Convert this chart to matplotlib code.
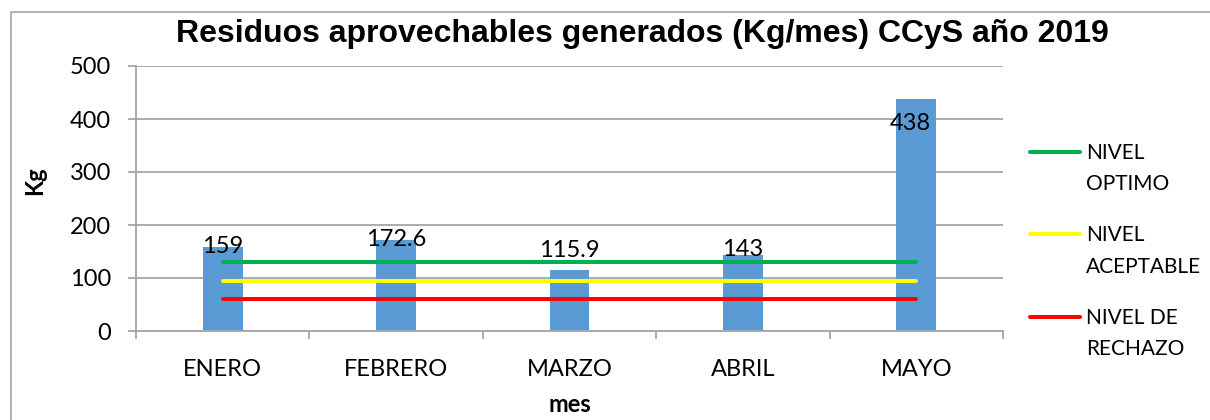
import matplotlib
matplotlib.use("Agg")
import matplotlib.pyplot as plt
from matplotlib.lines import Line2D
from matplotlib.ticker import FixedLocator, NullFormatter
from matplotlib.font_manager import FontProperties

# ---- data ----
meses = ["ENERO", "FEBRERO", "MARZO", "ABRIL", "MAYO"]
residuos_kg = [159, 172.6, 115.9, 143, 438]
nivel_optimo = [130, 130, 130, 130, 130]
nivel_aceptable = [95, 95, 95, 95, 95]
nivel_rechazo = [60, 60, 60, 60, 60]
etiquetas = ["159", "172.6", "115.9", "143", "438"]
series_labels = ["NIVEL\nOPTIMO", "NIVEL\nACEPTABLE", "NIVEL DE\nRECHAZO"]
y_ticks = [0, 100, 200, 300, 400, 500]

# ---- style ----
BODY = ["Lato", "DejaVu Sans"]
TITLE = ["Liberation Sans", "DejaVu Sans"]
GRID = "#a6a6a6"
BAR = "#5b9bd5"
line_colors = ["#00b050", "#ffff00", "#ff0000"]
# label offsets (points) relative to bar top
label_offsets = [(0, 0), (0, 0), (0, 14), (0, 4), (-4, -18)]
LEG_SPACING = 1.7

fig = plt.figure(figsize=(12.1, 4.2), dpi=100)
fig.patch.set_facecolor("white")
# outer chart frame (left and top edges visible)
fig.add_artist(Line2D([10.5 / 1210, 10.5 / 1210, 1.0], [0.0, 1 - 12 / 420, 1 - 12 / 420],
                      transform=fig.transFigure, color=GRID, lw=1.2))

ax = fig.add_axes([136 / 1210, 1 - 331 / 420, (1003 - 136) / 1210, (331 - 66) / 420])
x = list(range(len(meses)))

ax.bar(x, residuos_kg, width=0.23, color=BAR, zorder=2)
handles = []
for vals, col, lab in zip([nivel_optimo, nivel_aceptable, nivel_rechazo], line_colors, series_labels):
    h, = ax.plot(x, vals, color=col, lw=2.9, solid_capstyle="round", zorder=3, label=lab)
    handles.append(h)

for i, (v, t) in enumerate(zip(residuos_kg, etiquetas)):
    ax.annotate(t, xy=(i, v), xytext=label_offsets[i], textcoords="offset points",
                ha="center", va="center", fontsize=17, family=BODY, color="black", zorder=4)

ax.set_xlim(-0.5, len(meses) - 0.5)
ax.set_ylim(0, 500)
ax.set_yticks(y_ticks)
ax.set_yticklabels([str(v) for v in y_ticks])
ax.yaxis.grid(True, color=GRID, lw=1.3, zorder=0)
ax.set_axisbelow(True)

ax.xaxis.set_major_locator(FixedLocator(x))
ax.set_xticklabels(meses)
ax.xaxis.set_minor_locator(FixedLocator([i - 0.5 for i in range(len(meses) + 1)]))
ax.xaxis.set_minor_formatter(NullFormatter())
ax.tick_params(axis="x", which="major", length=0, pad=20, labelsize=17)
ax.tick_params(axis="x", which="minor", length=6, width=1.3, color=GRID)
ax.tick_params(axis="y", length=6, width=1.3, color=GRID, pad=12, labelsize=17)
for lbl in ax.get_xticklabels() + ax.get_yticklabels():
    lbl.set_family(BODY)

for s in ["top", "right"]:
    ax.spines[s].set_visible(False)
for s in ["left", "bottom"]:
    ax.spines[s].set_color(GRID)
    ax.spines[s].set_linewidth(1.3)

fig.text(642 / 1210, 1 - 34 / 420, "Residuos aprovechables generados (Kg/mes) CCyS año 2019",
         ha="center", va="center", fontsize=23, fontweight="bold", family=TITLE)
fig.text(35 / 1210, 1 - 181 / 420, "Kg", rotation=90, ha="center", va="center",
         fontsize=17, fontweight="bold", family=BODY)
fig.text(570 / 1210, 1 - 404 / 420, "mes", ha="center", va="center",
         fontsize=17, fontweight="bold", family=BODY)

leg = fig.legend(handles=handles, labels=series_labels, loc="upper left",
                 bbox_to_anchor=(1030 / 1210, 1 - 143 / 420), frameon=False,
                 prop={"family": BODY, "size": 15}, handlelength=2.4,
                 handletextpad=0.3, labelspacing=1.5, borderpad=0, borderaxespad=0)
for t in leg.get_texts():
    t.set_linespacing(LEG_SPACING)

fig.canvas.draw()
renderer = fig.canvas.get_renderer()
fp = FontProperties(family=BODY, size=15)
_, lp_h, lp_d = renderer.get_text_width_height_descent("lp", fp, ismath=False)
shift_px = (lp_h - lp_d) * LEG_SPACING / 2 + 4
shift_pts = shift_px * 72 / fig.dpi
for ln in leg.get_lines():
    yd = ln.get_ydata()
    ln.set_ydata([y + shift_pts for y in yd])
    ln.set_linewidth(2.9)
    ln.set_solid_capstyle("round")

fig.savefig("out.png", dpi=100, facecolor="white")
